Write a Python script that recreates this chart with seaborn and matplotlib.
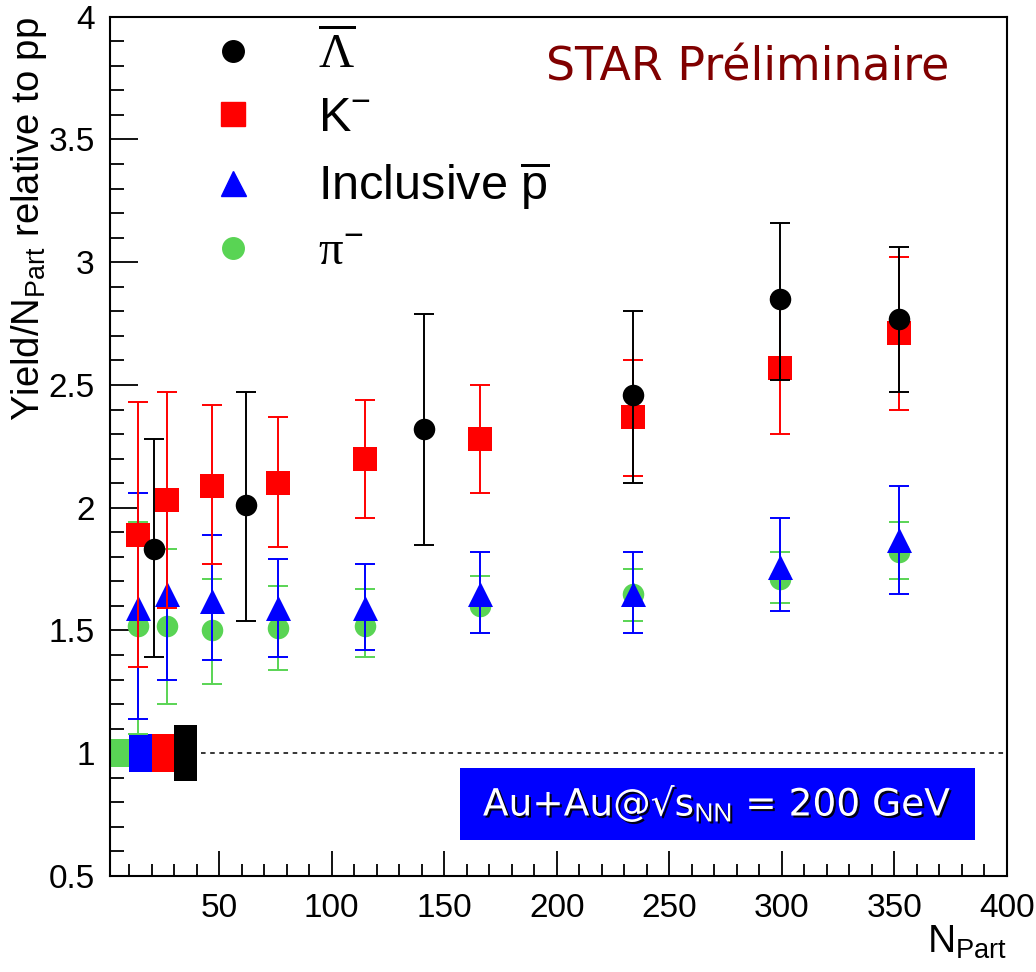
import numpy as np
import pandas as pd
import matplotlib
matplotlib.use("Agg")
import matplotlib.pyplot as plt
import seaborn as sns
from matplotlib.lines import Line2D
from matplotlib.patches import Rectangle
import matplotlib.patheffects as pe
from matplotlib.ticker import FixedLocator, MultipleLocator, FuncFormatter

# ---------------- data ----------------
npart = [14, 27, 47, 76, 115, 166, 234, 299, 352]
npart_lam = [21, 62, 141, 234, 299, 352]

lam_val = [1.83, 2.01, 2.32, 2.46, 2.85, 2.77]
lam_hi = [2.28, 2.47, 2.79, 2.80, 3.16, 3.06]
lam_lo = [1.39, 1.54, 1.85, 2.10, 2.52, 2.47]

k_val = [1.89, 2.03, 2.09, 2.10, 2.20, 2.28, 2.37, 2.57, 2.71]
k_hi = [2.43, 2.47, 2.42, 2.37, 2.44, 2.50, 2.60, 2.86, 3.02]
k_lo = [1.35, 1.59, 1.77, 1.84, 1.96, 2.06, 2.13, 2.30, 2.40]

p_val = [1.59, 1.65, 1.62, 1.59, 1.59, 1.65, 1.65, 1.76, 1.87]
p_hi = [2.06, 2.01, 1.89, 1.79, 1.77, 1.82, 1.82, 1.96, 2.09]
p_lo = [1.14, 1.30, 1.38, 1.39, 1.42, 1.49, 1.49, 1.58, 1.65]

pi_val = [1.52, 1.52, 1.50, 1.51, 1.52, 1.60, 1.65, 1.71, 1.82]
pi_hi = [1.94, 1.83, 1.71, 1.68, 1.67, 1.72, 1.75, 1.82, 1.94]
pi_lo = [1.08, 1.20, 1.28, 1.34, 1.39, 1.49, 1.54, 1.61, 1.71]

# normalisation uncertainty boxes at 1 (pi, pbar, K, Lambda)
norm_x = [5, 15, 25, 35]
norm_err = [0.058, 0.077, 0.077, 0.115]
ref_level = 1.0

x_ticks = [50, 100, 150, 200, 250, 300, 350, 400]
y_ticks = [0.5, 1, 1.5, 2, 2.5, 3, 3.5, 4]

labels = [r"$\overline{\mathbf{\Lambda}}$", r"K$^{-}$",
          r"Inclusive $\overline{\mathrm{p}}$", r"$\mathbf{\pi}^{-}$"]

# ---------------- style ----------------
sns.set_theme(style="white")
plt.rcParams["font.family"] = ["Liberation Sans", "DejaVu Sans"]
plt.rcParams["mathtext.fontset"] = "custom"
plt.rcParams["mathtext.rm"] = "Liberation Sans"
plt.rcParams["mathtext.it"] = "Liberation Sans:italic"
plt.rcParams["mathtext.bf"] = "Liberation Serif"

GREEN = "#59d454"
BLUE = "#0000ff"
RED = "#ff0000"
BLACK = "#000000"

fig = plt.figure(figsize=(10.36, 9.72), dpi=100)
ax = fig.add_axes([110 / 1036, 1 - 876 / 972, 897 / 1036, (876 - 16.7) / 972])

series = [
    # x, val, lo, hi, color, marker, size(pt)
    (npart, pi_val, pi_lo, pi_hi, GREEN, "o", 15.5),
    (npart, p_val, p_lo, p_hi, BLUE, "^", 18),
    (npart, k_val, k_lo, k_hi, RED, "s", 17.5),
    (npart_lam, lam_val, lam_lo, lam_hi, BLACK, "o", 15.5),
]

# normalisation boxes
ax.bar(norm_x, [2 * e for e in norm_err], bottom=[ref_level - e for e in norm_err],
       width=10, color=[GREEN, BLUE, RED, BLACK], linewidth=0, zorder=2)
ax.hlines(ref_level, max(norm_x) + 7, 400, colors="black", linestyles=(0, (3, 3)),
          linewidth=1.1, zorder=1)

z = 3
for x, v, lo, hi, c, m, ms in series:
    v = np.array(v); lo = np.array(lo); hi = np.array(hi)
    ax.errorbar(x, v, yerr=[v - lo, hi - v], fmt="none", ecolor=c,
                elinewidth=1.4, capsize=7.5, capthick=1.4, zorder=z)
    df = pd.DataFrame({"x": x, "y": v})
    sns.scatterplot(data=df, x="x", y="y", marker=m, s=ms ** 2, color=c,
                    linewidth=0, ax=ax, zorder=z + 0.5, legend=False)
    z += 1

ax.set_xlim(1.5, 400)
ax.set_ylim(0.5, 4)
ax.xaxis.set_major_locator(FixedLocator(x_ticks))
ax.xaxis.set_minor_locator(MultipleLocator(10))
ax.yaxis.set_major_locator(FixedLocator(y_ticks))
ax.yaxis.set_minor_locator(MultipleLocator(0.1))
fmt = FuncFormatter(lambda v, p: "%g" % v)
ax.xaxis.set_major_formatter(fmt)
ax.yaxis.set_major_formatter(fmt)

ax.tick_params(which="both", direction="in", top=False, right=False,
               left=True, bottom=True,
               width=1.3, color="black", labelcolor="black")
ax.tick_params(axis="y", which="major", length=20, pad=11, labelsize=24)
ax.tick_params(axis="y", which="minor", length=10)
ax.tick_params(axis="x", which="major", length=18, pad=12, labelsize=24)
ax.tick_params(axis="x", which="minor", length=9)
for s in ax.spines.values():
    s.set_color("black")
    s.set_linewidth(1.5)

ax.set_xlabel(r"N$_{\mathrm{Part}}$", fontsize=28, loc="right", color="black")
ax.xaxis.set_label_coords(1.0, -0.055)
ax.set_ylabel(r"Yield/N$_{\mathrm{Part}}$ relative to pp", fontsize=27.5, loc="top",
              color="black")
ax.yaxis.set_label_coords(-0.068, 1.0)

# legend
handles = [
    Line2D([], [], marker="o", color=BLACK, linestyle="none", markersize=15.5),
    Line2D([], [], marker="s", color=RED, linestyle="none", markersize=17.5),
    Line2D([], [], marker="^", color=BLUE, linestyle="none", markersize=18),
    Line2D([], [], marker="o", color=GREEN, linestyle="none", markersize=15.5),
]
leg = ax.legend(handles, labels, loc="upper left", bbox_to_anchor=(0.110, 0.985),
                frameon=False, fontsize=35, handlelength=1.0, handletextpad=1.25,
                labelspacing=0.38, borderpad=0, borderaxespad=0)
for txt in leg.get_texts():
    txt.set_color("black")

ax.text(0.711, 0.94, "STAR Préliminaire", transform=ax.transAxes,
        ha="center", va="center", fontsize=33, color="#800000",
        family=["DejaVu Sans"])

ax.add_patch(Rectangle((0.390, 0.042), 0.574, 0.084, transform=ax.transAxes,
                       facecolor=BLUE, edgecolor="none", zorder=8))
t = ax.text(0.677, 0.084, r"Au+Au@√s$_{\mathrm{NN}}$ = 200 GeV", transform=ax.transAxes,
            ha="center", va="center", fontsize=27, color="white",
            family=["DejaVu Sans"], zorder=9)
t.set_path_effects([pe.SimplePatchShadow(offset=(1.5, -1.5), shadow_rgbFace="black", alpha=0.9),
                    pe.Normal()])

fig.savefig("out.png", dpi=100)
